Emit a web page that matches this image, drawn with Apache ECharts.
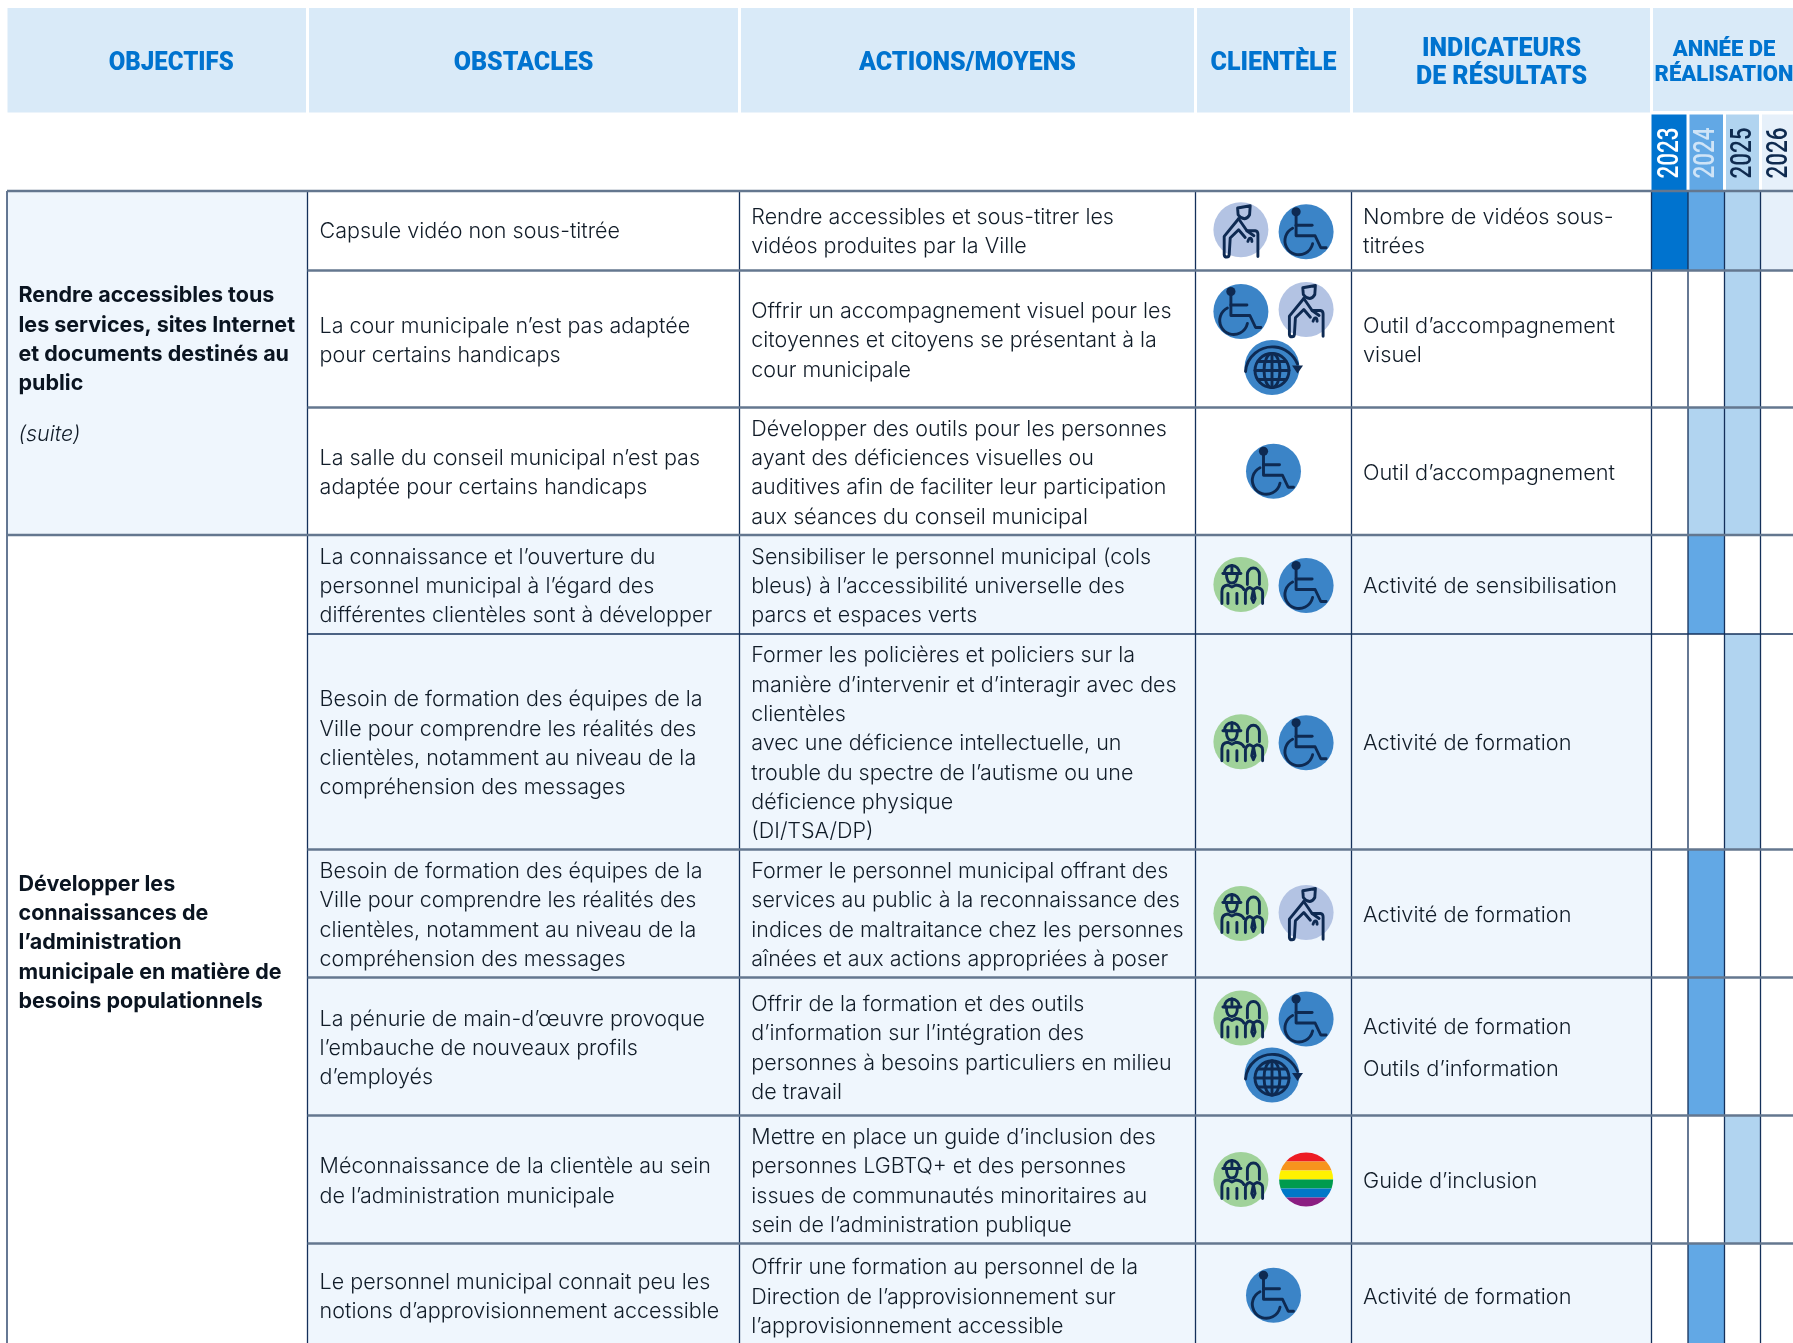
<!DOCTYPE html>
<html lang="fr"><head><meta charset="utf-8"><title>Plan d'action</title>
<style>html,body{margin:0;padding:0;background:#fff}#c{width:1793px;height:1343px}</style>
<script src="https://cdn.jsdelivr.net/npm/echarts@6/dist/echarts.min.js"></script></head><body><div id="c"></div>
<script>
// ---------- table content ----------
const headers = [['OBJECTIFS'],['OBSTACLES'],['ACTIONS/MOYENS'],['CLIENTÈLE'],['INDICATEURS','DE RÉSULTATS']];
const yearHeader = ['ANNÉE DE','RÉALISATION'];
const years = ['2023','2024','2025','2026'];
const objectives = [
  ['Rendre accessibles tous','les services, sites Internet','et documents destinés au','public'],
  ['Développer les','connaissances de','l’administration','municipale en matière de','besoins populationnels']
];
const objectiveNote = '(suite)';
const obstacles = [
  ['Capsule vidéo non sous-titrée'],
  ['La cour municipale n’est pas adaptée','pour certains handicaps'],
  ['La salle du conseil municipal n’est pas','adaptée pour certains handicaps'],
  ['La connaissance et l’ouverture du','personnel municipal à l’égard des','différentes clientèles sont à développer'],
  ['Besoin de formation des équipes de la','Ville pour comprendre les réalités des','clientèles, notamment au niveau de la','compréhension des messages'],
  ['Besoin de formation des équipes de la','Ville pour comprendre les réalités des','clientèles, notamment au niveau de la','compréhension des messages'],
  ['La pénurie de main-d’œuvre provoque','l’embauche de nouveaux profils','d’employés'],
  ['Méconnaissance de la clientèle au sein','de l’administration municipale'],
  ['Le personnel municipal connait peu les','notions d’approvisionnement accessible']
];
const actions = [
  ['Rendre accessibles et sous-titrer les','vidéos produites par la Ville'],
  ['Offrir un accompagnement visuel pour les','citoyennes et citoyens se présentant à la','cour municipale'],
  ['Développer des outils pour les personnes','ayant des déficiences visuelles ou','auditives afin de faciliter leur participation','aux séances du conseil municipal'],
  ['Sensibiliser le personnel municipal (cols','bleus) à l’accessibilité universelle des','parcs et espaces verts'],
  ['Former les policières et policiers sur la','manière d’intervenir et d’interagir avec des','clientèles','avec une déficience intellectuelle, un','trouble du spectre de l’autisme ou une','déficience physique','(DI/TSA/DP)'],
  ['Former le personnel municipal offrant des','services au public à la reconnaissance des','indices de maltraitance chez les personnes','aînées et aux actions appropriées à poser'],
  ['Offrir de la formation et des outils','d’information sur l’intégration des','personnes à besoins particuliers en milieu','de travail'],
  ['Mettre en place un guide d’inclusion des','personnes LGBTQ+ et des personnes','issues de communautés minoritaires au','sein de l’administration publique'],
  ['Offrir une formation au personnel de la','Direction de l’approvisionnement sur','l’approvisionnement accessible']
];
const clienteles = [
  ['aine','handicap'],['handicap','aine','monde'],['handicap'],['personnel','handicap'],['personnel','handicap'],
  ['personnel','aine'],['personnel','handicap','monde'],['personnel','lgbtq'],['handicap']
];
const indicators = [
  ['Nombre de vidéos sous-','titrées'],['Outil d’accompagnement','visuel'],['Outil d’accompagnement'],
  ['Activité de sensibilisation'],['Activité de formation'],['Activité de formation'],
  ['Activité de formation','','Outils d’information'],['Guide d’inclusion'],['Activité de formation']
];
// intensity per row and year: 0 none, 1 palest … 4 strongest
const schedule2023 = [4,0,0,0,0,0,0,0,0];
const schedule2024 = [3,0,2,3,0,3,3,0,3];
const schedule2025 = [2,2,2,0,2,0,0,2,0];
const schedule2026 = [1,0,0,0,0,0,0,0,0];
const schedules = [schedule2023,schedule2024,schedule2025,schedule2026];

// ---------- layout and style ----------
const W=1793,H=1343;
const colX=[7,307.5,739.5,1195.5,1351.5,1651.5,1688,1724.5,1760.5,1797];
const rowY=[191,270.5,407.5,535,634,849.5,977.5,1115.5,1243.5,1347];
const objectiveSpan=[[0,3],[3,9]];
const lineH=29.3, textDY=2, navy='#14305A', grey='#64778F', ink='#111C28', black='#0A1420', blue='#0073CF';
const headFill='#D9EAF8', tint='#EFF6FD';
const yearFill=['#FFFFFF','#E6F0FA','#B1D4F0','#62A8E5','#0073CF'];
const yearHeadText=['#FFFFFF','#CFE4F7','#0E2A4F','#0E2A4F'];
const bodyFont='300 21.5px Inter', boldFont='700 21.5px Inter', headFont='900 25px Roboto', yearHeadFont='500 22.5px Roboto';
const iconFill={aine:'#B3C3E3',handicap:'#3B84C7',personnel:'#A0D29A',monde:'#3B84C7'};
const iconNudge={aine:-1,handicap:1,personnel:0,monde:0,lgbtq:0};
const iconR=27.5, pairDX=32.6, stackDY=28.5;
const iconPaths={
  aine:['M-3.3 -21.7 L9.3 -24 L8.7 -15 Q7 -11.5 3.7 -11 Q-0.5 -11.5 -2.8 -15 Z',
        'M-2.3 -11 L-16.7 6.7 V25 Q-16.5 27.3 -14 27.3 Q-12 27.3 -11.7 25 L-10.7 8.3 L-2.3 0 L4.3 7.7',
        'M-2.3 -11 L6 1 H14.3 Q17 1.5 17 4.3 V26.7','M6 1 L13 6',
        'M7 11.7 Q8 8.3 9.5 8.5 Q11 9 11 11.7'],
  handicap:['M-10 -20 V4 H9 L14.7 16 H20','M-10 -6.5 H6','M-13.5 -3.5 A14 14 0 1 0 6.5 12'],
  personnel:['M-18 -11 H0','M-16.5 -11 A7.5 8 0 0 1 -1.5 -11','M-9 -19 V-13','M-14.5 -11 Q-14.5 -1.5 -9 -1.5 Q-3.5 -1.5 -3.5 -11',
        'M-19 19 V7 Q-19 1 -13 0.5 L-9 2.5 L-5 0.5 Q1 1 3 5','M-13 9 V19','M-4 9 V19',
        'M6.5 0 V-10 A6 6.5 0 0 1 18.5 -10 V0',
        'M4.5 19 V8 Q5 4 9 3 L12.5 5 L16 3 Q21.7 4 21.7 8 V19','M12.5 5 L10.8 14 L12.5 18 L14.2 14 Z'],
  monde:['M-26.5 4 A27 27 0 0 1 25.5 -3.5','M0 -14 A17 17 0 1 0 0 20 A17 17 0 1 0 0 -14 Z',
        'M0 -14 A8 17 0 1 0 0 20 A8 17 0 1 0 0 -14 Z','M0 -14 V20','M-17 3 H17','M-14 -6 H14','M-14 12 H14']
};
const arrowHead='M20 -2 H31 L25.5 6 Z';
const rainbow=['#ED1C24','#F7941D','#FFF200','#009B4E','#0078C8','#8B1E82'];

// ---------- helpers building the marks ----------
function rect(api,x0,y0,x1,y1,fill){
  const a=api.coord([x0,y0]),b=api.coord([x1,y1]);
  return {type:'rect',shape:{x:a[0],y:a[1],width:b[0]-a[0],height:b[1]-a[1]},style:{fill}};
}
function line(api,x0,y0,x1,y1,stroke,lw){
  const a=api.coord([x0,y0]),b=api.coord([x1,y1]);
  return {type:'line',shape:{x1:a[0],y1:a[1],x2:b[0],y2:b[1]},style:{stroke,lineWidth:lw}};
}
function textEl(api,s,x,y,font,fill,align,extra){
  const p=api.coord([x,y+textDY]);
  return Object.assign({type:'text',x:p[0],y:p[1],style:{text:s,font,fill,textAlign:align||'left',textVerticalAlign:'middle',textBaseline:'middle'}},extra||{});
}
function layer(name,items,draw,z){
  return {type:'custom',name,coordinateSystem:'cartesian2d',silent:true,animation:false,clip:false,z,
    data:items.map((d,i)=>[i]),encode:{x:0,y:0},
    renderItem:(p,api)=>draw(items[p.dataIndex],api)};
}
function stack(lines,cy,breakSize){
  let total=0; lines.forEach((l,i)=>{ if(i) total+= l===''?breakSize:1; });
  let y=cy-total*lineH/2, out=[];
  lines.forEach((l,i)=>{ if(i) y+=(l===''?breakSize:1)*lineH; if(l!=='') out.push([l,y]); });
  return out;
}
const rows=obstacles.map((_,i)=>i);

const fills=[];
for(let c=0;c<5;c++) fills.push([colX[c]+(c?1.5:0.5),8,colX[c+1]-1.5,112.5,headFill]);
fills.push([colX[5]+1.5,8,W+4,111,headFill]);
years.forEach((y,i)=>{ fills.push([colX[5+i]+(i?1.5:0),114.5,colX[6+i]-(i<3?1.5:-2),190,yearFill[4-i]]); });
fills.push([colX[0],rowY[0],colX[1],rowY[3],tint]);
rows.forEach(r=>{ if(r>=3) fills.push([colX[1],rowY[r],colX[5],rowY[r+1],tint]); });
schedules.forEach((s,j)=>s.forEach((v,r)=>{ if(v) fills.push([colX[5+j],rowY[r],colX[6+j],rowY[r+1],yearFill[v]]); }));

const rules=[];
colX.slice(0,9).forEach(x=>rules.push([x,rowY[0],x,H,navy,1.3]));
rules.push([colX[0],rowY[0],W,rowY[0],grey,2.4]);
rules.push([colX[0],rowY[3],W,rowY[3],grey,2.4]);
[1,2,5,6,7,8].forEach(r=>rules.push([colX[1],rowY[r],W,rowY[r],grey,2.4]));
rules.push([colX[1],rowY[4],W,rowY[4],navy,1.4]);

const labels=[];
const headShift=[14,0,0,0,0];
headers.forEach((h,c)=>{ const cx=(colX[c]+colX[c+1])/2+headShift[c];
  h.forEach((t,i)=>labels.push([t,cx,61.5+(i-(h.length-1)/2)*28,headFont,blue,'center',c===0?{scaleX:0.96}:null])); });
yearHeader.forEach((t,i)=>labels.push([t,1724,60.5+(i-.5)*25,'900 22px Roboto',blue,'center',null]));
years.forEach((y,i)=>labels.push([y,(colX[5+i]+colX[6+i])/2+0.8,151,yearHeadFont,yearHeadText[i],'center',{rotation:Math.PI/2,scaleY:1.3}]));
objectives.forEach((o,k)=>{ const s=objectiveSpan[k], cy=(rowY[s[0]]+rowY[s[1]])/2;
  const ls=k===0?o.concat(['',objectiveNote]):o;
  stack(ls,cy,0.72).forEach(([t,y])=>labels.push([t,18.5,y,t===objectiveNote?'italic 300 21.5px Inter':boldFont,t===objectiveNote?ink:black,'left',null]));
});
rows.forEach(r=>{ const cy=(rowY[r]+rowY[r+1])/2-(r===0?1:0);
  stack(obstacles[r],cy,1).forEach(([t,y])=>labels.push([t,319.6,y,bodyFont,ink,'left',null]));
  stack(actions[r],cy,1).forEach(([t,y])=>labels.push([t,751.3,y,bodyFont,ink,'left',null]));
  stack(indicators[r],cy,0.44).forEach(([t,y])=>labels.push([t,1363,y,bodyFont,ink,'left',{scaleX:1.012}]));
});

const icons=[];
rows.forEach(r=>{ const list=clienteles[r], cx=(colX[3]+colX[4])/2, cy=(rowY[r]+rowY[r+1])/2;
  if(list.length===1) icons.push([list[0],cx,cy]);
  if(list.length===2){ icons.push([list[0],cx-pairDX,cy+iconNudge[list[0]]]); icons.push([list[1],cx+pairDX,cy+iconNudge[list[1]]]); }
  if(list.length===3){ icons.push([list[0],cx-pairDX,cy-stackDY+iconNudge[list[0]]]); icons.push([list[1],cx+pairDX,cy-stackDY+iconNudge[list[1]]]); icons.push([list[2],cx-1.5,cy+stackDY]); }
});
function drawIcon(d,api){
  const p=api.coord([d[1],d[2]]), kids=[];
  if(d[0]==='lgbtq'){
    const r=27, h=2*r/6;
    rainbow.forEach((c,i)=>{
      const y0=-r+i*h, y1=y0+h, x0=Math.sqrt(Math.max(0,r*r-y0*y0)), x1=Math.sqrt(Math.max(0,r*r-y1*y1));
      kids.push({type:'path',shape:{pathData:`M${-x0} ${y0} L${x0} ${y0} A${r} ${r} 0 0 1 ${x1} ${y1} L${-x1} ${y1} A${r} ${r} 0 0 1 ${-x0} ${y0} Z`},style:{fill:c}});
    });
  } else {
    kids.push({type:'circle',shape:{cx:0,cy:0,r:iconR},style:{fill:iconFill[d[0]]}});
    iconPaths[d[0]].forEach(s=>kids.push({type:'path',shape:{pathData:s},style:{fill:null,stroke:'#0E2A52',lineWidth:2.9,lineCap:'round',lineJoin:'round'}}));
    if(d[0]==='handicap') kids.push({type:'circle',shape:{cx:-10,cy:-20,r:4.6},style:{fill:'#0E2A52'}});
    if(d[0]==='monde') kids.push({type:'path',shape:{pathData:arrowHead},style:{fill:'#0E2A52'}});
  }
  return {type:'group',x:p[0],y:p[1],children:kids};
}

const chart=echarts.init(document.getElementById('c'),null,{renderer:'canvas',width:W,height:H});
chart.setOption({
  animation:false,backgroundColor:'#fff',
  grid:{left:0,top:0,right:0,bottom:0},
  xAxis:{type:'value',min:0,max:W,show:false},
  yAxis:{type:'value',min:0,max:H,inverse:true,show:false},
  tooltip:{show:false},
  series:[
    layer('cells',fills,(d,api)=>rect(api,d[0],d[1],d[2],d[3],d[4]),1),
    layer('rules',rules,(d,api)=>line(api,d[0],d[1],d[2],d[3],d[4],d[5]),2),
    layer('icons',icons,drawIcon,3),
    layer('text',labels,(d,api)=>textEl(api,d[0],d[1],d[2],d[3],d[4],d[5],d[6]),4)
  ]
});
</script></body></html>
